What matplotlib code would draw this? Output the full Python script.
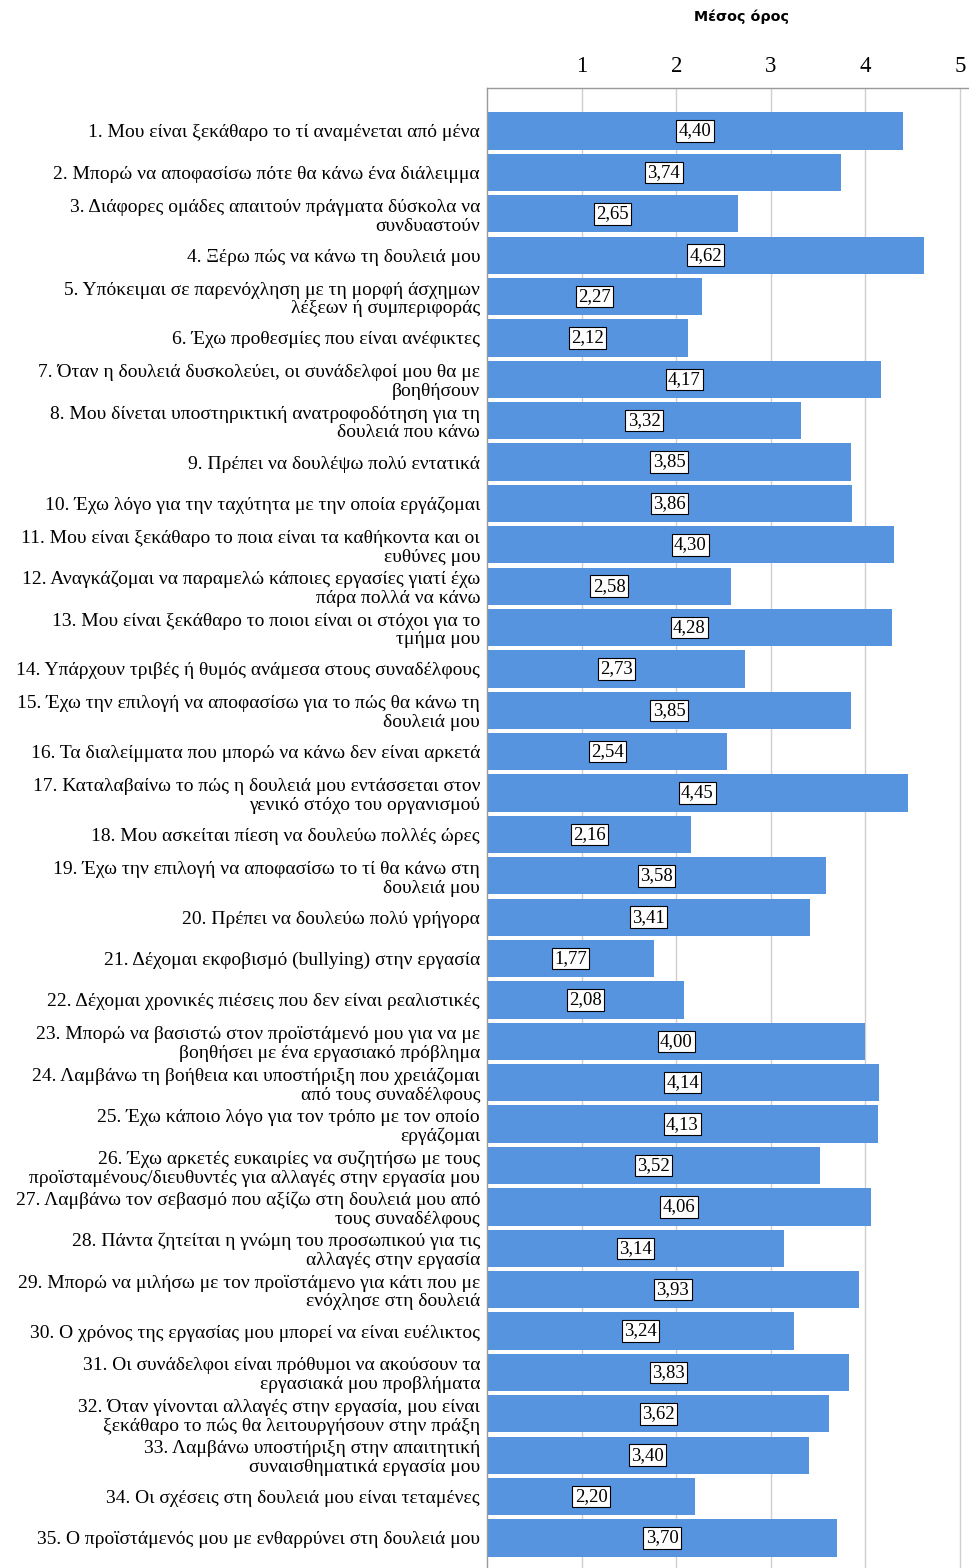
import matplotlib
matplotlib.use("Agg")
import matplotlib.pyplot as plt

labels = [
    "1. Μου είναι ξεκάθαρο το τί αναμένεται από μένα",
    "2. Μπορώ να αποφασίσω πότε θα κάνω ένα διάλειμμα",
    "3. Διάφορες ομάδες απαιτούν πράγματα δύσκολα να\nσυνδυαστούν",
    "4. Ξέρω πώς να κάνω τη δουλειά μου",
    "5. Υπόκειμαι σε παρενόχληση με τη μορφή άσχημων\nλέξεων ή συμπεριφοράς",
    "6. Έχω προθεσμίες που είναι ανέφικτες",
    "7. Όταν η δουλειά δυσκολεύει, οι συνάδελφοί μου θα με\nβοηθήσουν",
    "8. Μου δίνεται υποστηρικτική ανατροφοδότηση για τη\nδουλειά που κάνω",
    "9. Πρέπει να δουλέψω πολύ εντατικά",
    "10. Έχω λόγο για την ταχύτητα με την οποία εργάζομαι",
    "11. Μου είναι ξεκάθαρο το ποια είναι τα καθήκοντα και οι\nευθύνες μου",
    "12. Αναγκάζομαι να παραμελώ κάποιες εργασίες γιατί έχω\nπάρα πολλά να κάνω",
    "13. Μου είναι ξεκάθαρο το ποιοι είναι οι στόχοι για το\nτμήμα μου",
    "14. Υπάρχουν τριβές ή θυμός ανάμεσα στους συναδέλφους",
    "15. Έχω την επιλογή να αποφασίσω για το πώς θα κάνω τη\nδουλειά μου",
    "16. Τα διαλείμματα που μπορώ να κάνω δεν είναι αρκετά",
    "17. Καταλαβαίνω το πώς η δουλειά μου εντάσσεται στον\nγενικό στόχο του οργανισμού",
    "18. Μου ασκείται πίεση να δουλεύω πολλές ώρες",
    "19. Έχω την επιλογή να αποφασίσω το τί θα κάνω στη\nδουλειά μου",
    "20. Πρέπει να δουλεύω πολύ γρήγορα",
    "21. Δέχομαι εκφοβισμό (bullying) στην εργασία",
    "22. Δέχομαι χρονικές πιέσεις που δεν είναι ρεαλιστικές",
    "23. Μπορώ να βασιστώ στον προϊστάμενό μου για να με\nβοηθήσει με ένα εργασιακό πρόβλημα",
    "24. Λαμβάνω τη βοήθεια και υποστήριξη που χρειάζομαι\nαπό τους συναδέλφους",
    "25. Έχω κάποιο λόγο για τον τρόπο με τον οποίο\nεργάζομαι",
    "26. Έχω αρκετές ευκαιρίες να συζητήσω με τους\nπροϊσταμένους/διευθυντές για αλλαγές στην εργασία μου",
    "27. Λαμβάνω τον σεβασμό που αξίζω στη δουλειά μου από\nτους συναδέλφους",
    "28. Πάντα ζητείται η γνώμη του προσωπικού για τις\nαλλαγές στην εργασία",
    "29. Μπορώ να μιλήσω με τον προϊστάμενο για κάτι που με\nενόχλησε στη δουλειά",
    "30. Ο χρόνος της εργασίας μου μπορεί να είναι ευέλικτος",
    "31. Οι συνάδελφοι είναι πρόθυμοι να ακούσουν τα\nεργασιακά μου προβλήματα",
    "32. Όταν γίνονται αλλαγές στην εργασία, μου είναι\nξεκάθαρο το πώς θα λειτουργήσουν στην πράξη",
    "33. Λαμβάνω υποστήριξη στην απαιτητική\nσυναισθηματικά εργασία μου",
    "34. Οι σχέσεις στη δουλειά μου είναι τεταμένες",
    "35. Ο προϊστάμενός μου με ενθαρρύνει στη δουλειά μου",
]
values = [4.40, 3.74, 2.65, 4.62, 2.27, 2.12, 4.17, 3.32, 3.85, 3.86,
          4.30, 2.58, 4.28, 2.73, 3.85, 2.54, 4.45, 2.16, 3.58, 3.41,
          1.77, 2.08, 4.00, 4.14, 4.13, 3.52, 4.06, 3.14, 3.93, 3.24,
          3.83, 3.62, 3.40, 2.20, 3.70]
ticks = [1, 2, 3, 4, 5]
title = "Μέσος όρος"

W, H = 970, 1568
fig = plt.figure(figsize=(W / 100, H / 100), dpi=100)
ax = fig.add_axes([487 / W, 0, 1 - 487 / W, 1 - 88 / H])

ypos = list(range(len(values)))
ax.barh(ypos, values, height=0.9, color="#5694E0", zorder=2)
ax.set_xlim(0, (970 - 487) / 94.6)
ax.set_ylim((1568 - 131) / 41.38, -43 / 41.38)

ax.set_xticks(ticks)
ax.set_xticklabels([str(t) for t in ticks], family="Liberation Serif", fontsize=16.5)
ax.xaxis.tick_top()
ax.tick_params(axis="x", length=0, pad=8)
ax.grid(axis="x", color="#CFCFCF", linewidth=1, zorder=0)

ax.set_yticks(ypos)
ax.set_yticklabels(labels, family="Liberation Serif", fontsize=14.0, linespacing=1.14)
ax.tick_params(axis="y", length=0, pad=5)

for s in ["right", "bottom"]:
    ax.spines[s].set_visible(False)
for s in ["left", "top"]:
    ax.spines[s].set_color("#999999")
    ax.spines[s].set_linewidth(1)

for y, v in zip(ypos, values):
    ax.text(v / 2, y, f"{v:.2f}".replace(".", ","), ha="center", va="center",
            family="Liberation Serif", fontsize=13.5, zorder=3,
            bbox=dict(facecolor="white", edgecolor="black", linewidth=0.8,
                      boxstyle="square,pad=0.12"))

fig.text(742 / W, 1 - 17 / H, title, ha="center", va="center",
         fontsize=10.3, fontweight="bold", family="DejaVu Sans")

fig.savefig("out.png", dpi=100)
